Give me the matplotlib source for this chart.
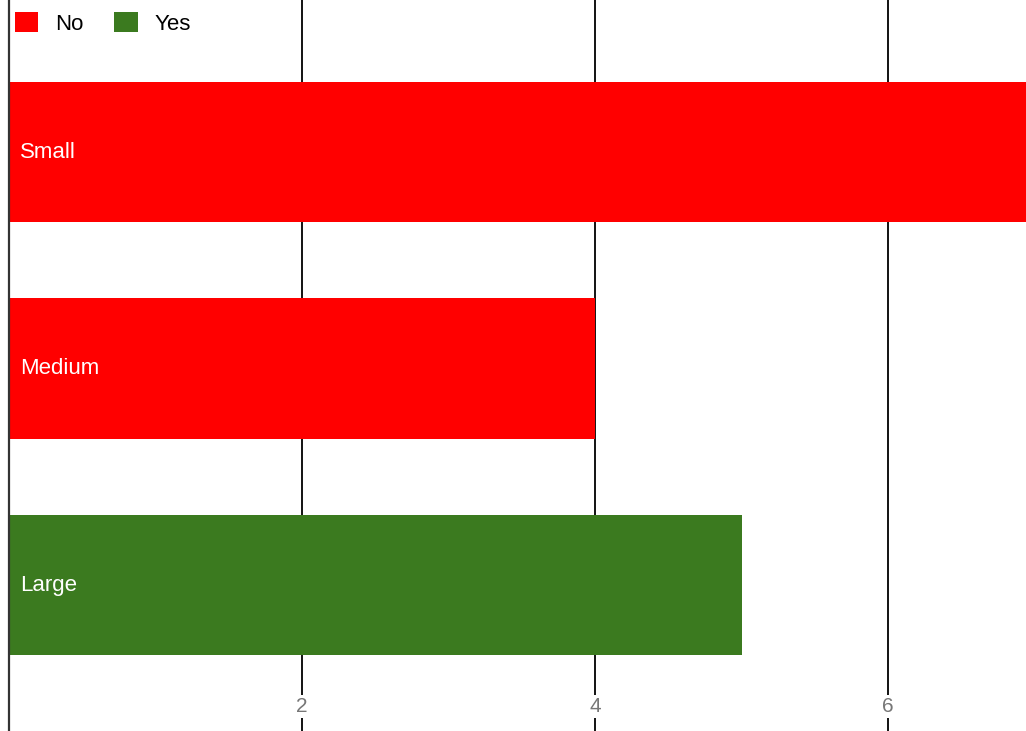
import matplotlib.pyplot as plt
from matplotlib.patches import Patch

# data
categories = ["Small", "Medium", "Large"]
values = [7, 4, 5]
answers = ["No", "No", "Yes"]
tick_values = [2, 4, 6]
colors = {"No": "#ff0000", "Yes": "#3b7a1f"}

plt.rcParams['font.family'] = ['Liberation Sans', 'DejaVu Sans']

fig = plt.figure(figsize=(10.26, 7.31), dpi=100)
ax = fig.add_axes([9 / 1026, 0, 1 - 9 / 1026, 1])

ypos = list(range(len(categories)))
ax.barh(ypos, values, height=0.647, color=[colors[a] for a in answers], zorder=2)

# vertical gridlines
for t in tick_values:
    ax.axvline(t, color="black", lw=1.3, zorder=1)
    ax.text(t, 2.56, str(t), ha="center", va="center", fontsize=15, color="#777777",
            bbox=dict(facecolor="white", edgecolor="none", pad=1.5), zorder=3)

# labels inside bars
for y, c in zip(ypos, categories):
    ax.text(0.075, y, c, ha="left", va="center", color="white", fontsize=16, zorder=4)

ax.set_xlim(0, 1017 / 146.5)
ax.set_ylim(2 + 146 / 216.5, -152 / 216.5)
for s in ["top", "right", "bottom"]:
    ax.spines[s].set_visible(False)
ax.spines["left"].set_color("#333333")
ax.spines["left"].set_linewidth(1.6)
ax.spines["left"].set_zorder(5)
ax.set_xticks([])
ax.set_yticks([])

handles = [Patch(facecolor=colors[k], edgecolor="none", label=k) for k in ["No", "Yes"]]
fig.legend(handles=handles, loc="upper left", bbox_to_anchor=(6 / 1026, 1 - 3 / 731),
           ncol=2, frameon=False, fontsize=16, handlelength=1.05, handleheight=1.05,
           handletextpad=0.75, columnspacing=1.4, borderaxespad=0)

plt.savefig("out.png", dpi=100)
